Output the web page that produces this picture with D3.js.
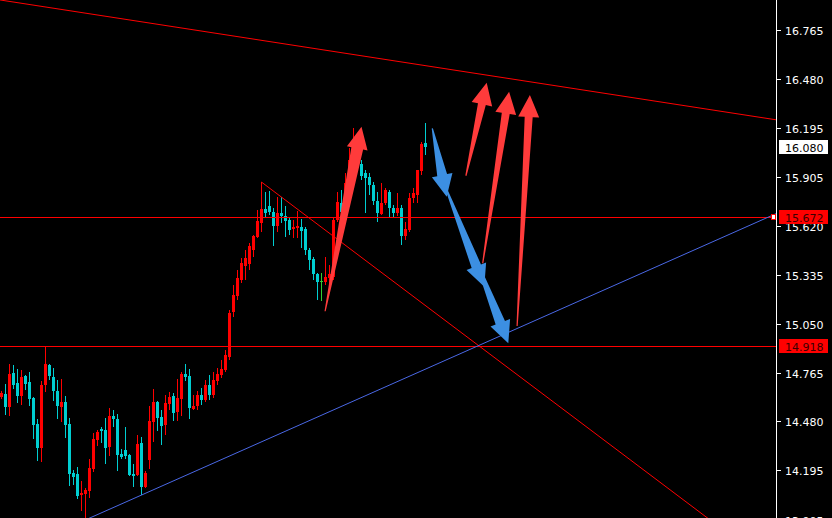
<!DOCTYPE html>
<html><head><meta charset="utf-8">
<script src="https://cdn.jsdelivr.net/npm/d3@7"></script>
<style>html,body{margin:0;padding:0;background:#000;overflow:hidden}</style>
</head><body>
<svg id="c" width="832" height="518"></svg>
<script>
// ---- data ----
const opens = [14.622,14.640,14.564,14.762,14.704,14.628,14.745,14.710,14.617,14.465,
14.325,14.692,14.809,14.739,14.657,14.564,14.593,14.465,14.179,14.173,
14.050,14.056,14.074,14.202,14.371,14.436,14.430,14.330,14.511,14.494,
14.290,14.313,14.284,14.173,14.167,14.354,14.097,14.255,14.476,14.593,
14.506,14.459,14.581,14.628,14.535,14.611,14.757,14.745,14.552,14.570,
14.634,14.605,14.692,14.634,14.716,14.751,14.780,14.856,15.119,15.212,
15.305,15.387,15.399,15.481,15.556,15.638,15.720,15.737,15.702,15.621,
15.697,15.679,15.656,15.603,15.609,15.615,15.603,15.481,15.428,15.340,
15.297,15.294,15.317,15.323,15.656,15.755,15.755,15.872,15.994,16.064,
15.983,15.930,15.907,15.860,15.767,15.691,15.755,15.819,15.726,15.697,
15.726,15.562,15.597,15.784,15.802,15.942,16.105];
const highs = [14.657,14.698,14.815,14.809,14.786,14.780,14.751,14.768,14.622,14.494,
14.716,14.920,14.815,14.792,14.722,14.727,14.628,14.500,14.196,14.214,
14.132,14.091,14.260,14.412,14.430,14.447,14.500,14.558,14.546,14.523,
14.319,14.447,14.290,14.231,14.401,14.389,14.190,14.570,14.669,14.599,
14.546,14.634,14.652,14.646,14.727,14.768,14.815,14.786,14.634,14.657,
14.675,14.722,14.751,14.768,14.792,14.838,14.897,15.130,15.276,15.364,
15.434,15.481,15.521,15.568,15.714,15.877,15.819,15.825,15.726,15.790,
15.790,15.737,15.667,15.656,15.708,15.661,15.615,15.492,15.440,15.346,
15.346,15.440,15.393,15.667,15.819,15.831,15.930,16.076,16.193,16.093,
16.006,15.948,15.930,15.877,15.819,15.872,15.842,15.831,15.743,15.813,
15.743,15.644,15.813,15.842,15.948,16.111,16.222];
const lows = [14.611,14.517,14.511,14.669,14.587,14.576,14.663,14.570,14.377,14.249,
14.243,14.652,14.722,14.599,14.494,14.476,14.383,14.103,14.109,14.027,
13.957,13.916,14.033,14.184,14.336,14.354,14.231,14.278,14.447,14.190,
14.260,14.260,14.162,14.097,14.162,14.050,14.094,14.202,14.360,14.424,
14.342,14.401,14.546,14.482,14.482,14.511,14.716,14.494,14.547,14.546,
14.576,14.593,14.605,14.617,14.692,14.733,14.768,14.838,15.089,15.189,
15.288,15.305,15.364,15.440,15.550,15.586,15.673,15.685,15.504,15.586,
15.638,15.556,15.568,15.551,15.551,15.492,15.451,15.364,15.305,15.189,
15.183,15.276,15.247,15.305,15.644,15.685,15.743,15.813,15.977,15.959,
15.889,15.697,15.802,15.743,15.644,15.685,15.743,15.673,15.673,15.679,
15.510,15.539,15.586,15.755,15.755,15.918,16.035];
const closes = [14.646,14.564,14.757,14.692,14.628,14.739,14.698,14.611,14.459,14.325,
14.692,14.815,14.745,14.657,14.570,14.593,14.459,14.173,14.155,14.044,
14.062,14.079,14.208,14.377,14.418,14.424,14.325,14.511,14.494,14.284,
14.272,14.278,14.167,14.161,14.348,14.097,14.179,14.482,14.593,14.500,
14.453,14.587,14.622,14.529,14.617,14.757,14.739,14.558,14.570,14.634,
14.605,14.692,14.634,14.722,14.757,14.786,14.868,15.113,15.218,15.317,
15.405,15.434,15.504,15.562,15.650,15.720,15.697,15.702,15.621,15.697,
15.679,15.650,15.597,15.615,15.621,15.591,15.481,15.422,15.340,15.294,
15.297,15.323,15.340,15.656,15.761,15.702,15.872,16.006,16.064,15.983,
15.913,15.901,15.860,15.767,15.697,15.755,15.831,15.726,15.697,15.726,
15.562,15.603,15.784,15.813,15.948,16.099,16.080];

const tickValues = [16.765,16.480,16.195,15.905,15.620,15.335,15.050,14.765,14.480,14.195,13.905];
const tickLabels = ["16.765","16.480","16.195","15.905","15.620","15.335","15.050","14.765","14.480","14.195","13.905"];
const hLevels = [15.672, 14.918];
const hLabels = ["15.672", "14.918"];
const lastPrice = 16.080, lastLabel = "16.080";

// trend lines: two anchor points each (bar index, price)
const topLineBars = [0, 150], topLinePrices = [16.939, 16.398];
const diagLineBars = [65, 176.5], diagLinePrices = [15.877, 13.916];
const blueLineBars = [35, 193], blueLinePrices = [14.050, 15.686];

// arrows (bar, price) tail -> tip
const upTailBars = [80.9, 116.1, 120.3, 128.9];
const upTailPrices = [15.123, 15.914, 15.403, 15.037];
const upTipBars = [90.0, 121.3, 126.9, 132.1];
const upTipPrices = [16.200, 16.457, 16.405, 16.385];
const downTailBars = [107.7, 110.6, 117.6];
const downTailPrices = [16.191, 15.872, 15.481];
const downTipBars = [111.3, 120.7, 126.7];
const downTipPrices = [15.792, 15.266, 14.936];

// ---- drawing ----
const svg = d3.select("#c");
const PW = 776, H = 518;
const x = d3.scaleLinear().domain([-0.375, 193.625]).range([0, PW]);
const y = d3.scaleLinear().domain([16.940, 13.916]).range([0, H]);

svg.append("rect").attr("width", 832).attr("height", H).attr("fill", "#000");
svg.append("defs").append("clipPath").attr("id", "clip")
  .append("rect").attr("width", PW).attr("height", H);
const plot = svg.append("g").attr("clip-path", "url(#clip)");

const RED = "#ff0000", CYAN = "#00ced1", DOJI = "#32cd32";
const idx = d3.range(opens.length);
const col = i => opens[i] === closes[i] ? DOJI : (closes[i] > opens[i] ? RED : CYAN);

const cg = plot.append("g").attr("shape-rendering", "crispEdges");
cg.selectAll("rect.w").data(idx).join("rect").attr("class", "w")
  .attr("x", i => Math.round(x(i) - 0.5))
  .attr("width", 1)
  .attr("y", i => Math.round(y(highs[i])))
  .attr("height", i => Math.max(1, Math.round(y(lows[i])) - Math.round(y(highs[i]))))
  .attr("fill", col);
cg.selectAll("rect.b").data(idx).join("rect").attr("class", "b")
  .attr("x", i => Math.round(x(i) - 1.5))
  .attr("width", 3)
  .attr("y", i => Math.round(y(Math.max(opens[i], closes[i]))))
  .attr("height", i => Math.max(1, Math.round(y(Math.min(opens[i], closes[i]))) - Math.round(y(Math.max(opens[i], closes[i])))))
  .attr("fill", col);

// horizontal levels (solid 1px rects)
plot.selectAll("rect.h").data(hLevels).join("rect").attr("class", "h")
  .attr("x", 0).attr("width", PW)
  .attr("y", d => Math.round(y(d))).attr("height", 1)
  .attr("fill", RED).attr("shape-rendering", "crispEdges");

function extLine(bars, prices, extendBack, color) {
  const x0 = x(bars[0]), y0 = y(prices[0]), x1 = x(bars[1]), y1 = y(prices[1]);
  const dx = x1 - x0, dy = y1 - y0;
  const k = 20;
  const sx = extendBack ? x0 - dx * k : x0, sy = extendBack ? y0 - dy * k : y0;
  plot.append("line").attr("x1", sx).attr("y1", sy)
    .attr("x2", x0 + dx * k).attr("y2", y0 + dy * k)
    .attr("stroke", color).attr("stroke-width", 1);
}
extLine(topLineBars, topLinePrices, true, RED);
extLine(diagLineBars, diagLinePrices, false, RED);
extLine(blueLineBars, blueLinePrices, true, "#4a68e6");

// arrows
function arrow(b0, p0, b1, p1, color, shaft) {
  const tx = x(b0), ty = y(p0), px = x(b1), py = y(p1);
  const L = Math.hypot(px - tx, py - ty);
  const ux = (px - tx) / L, uy = (py - ty) / L;
  const nx = -uy, ny = ux;
  const hl = 22, hw = 21;
  const bx = px - ux * hl, by = py - uy * hl;
  const pts = [
    [tx + nx * 0.6, ty + ny * 0.6],
    [bx + nx * shaft / 2, by + ny * shaft / 2],
    [bx + nx * hw / 2, by + ny * hw / 2],
    [px, py],
    [bx - nx * hw / 2, by - ny * hw / 2],
    [bx - nx * shaft / 2, by - ny * shaft / 2],
    [tx - nx * 0.6, ty - ny * 0.6]
  ];
  plot.append("polygon").attr("points", pts.map(p => p.join(",")).join(" "))
    .attr("fill", color);
}
const upShaft = [12, 8, 8, 8];
upTailBars.forEach((b, i) => arrow(b, upTailPrices[i], upTipBars[i], upTipPrices[i], "#ff3b3b", upShaft[i]));
downTailBars.forEach((b, i) => arrow(b, downTailPrices[i], downTipBars[i], downTipPrices[i], "#3c8fe2", 10));

// marker square at right end of level line
svg.append("rect").attr("x", 771.5).attr("y", Math.round(y(hLevels[0])) - 2.5)
  .attr("width", 4).attr("height", 5).attr("fill", "#fff").attr("stroke", RED).attr("stroke-width", 1);

// price axis
svg.append("rect").attr("x", 776).attr("y", 0).attr("width", 1).attr("height", H)
  .attr("fill", "#fff").attr("shape-rendering", "crispEdges");
const ax = svg.append("g").attr("font-family", "DejaVu Sans, Tahoma, sans-serif").attr("font-size", 11);
tickValues.forEach((v, i) => {
  const yy = Math.round(y(v));
  ax.append("rect").attr("x", 777).attr("y", yy).attr("width", 4).attr("height", 1)
    .attr("fill", "#fff").attr("shape-rendering", "crispEdges");
  ax.append("text").attr("x", 785).attr("y", yy + 4.5).attr("fill", "#fff").text(tickLabels[i]);
});

function box(v, label, bg, fg) {
  const yy = Math.round(y(v));
  ax.append("rect").attr("x", 779).attr("y", yy - 7).attr("width", 49).attr("height", 14)
    .attr("fill", bg).attr("shape-rendering", "crispEdges");
  ax.append("text").attr("x", 785).attr("y", yy + 4.5).attr("fill", fg).text(label);
}
box(lastPrice, lastLabel, "#fff", "#000");
hLevels.forEach((v, i) => box(v, hLabels[i], RED, "#3a0000"));
</script>
</body></html>
